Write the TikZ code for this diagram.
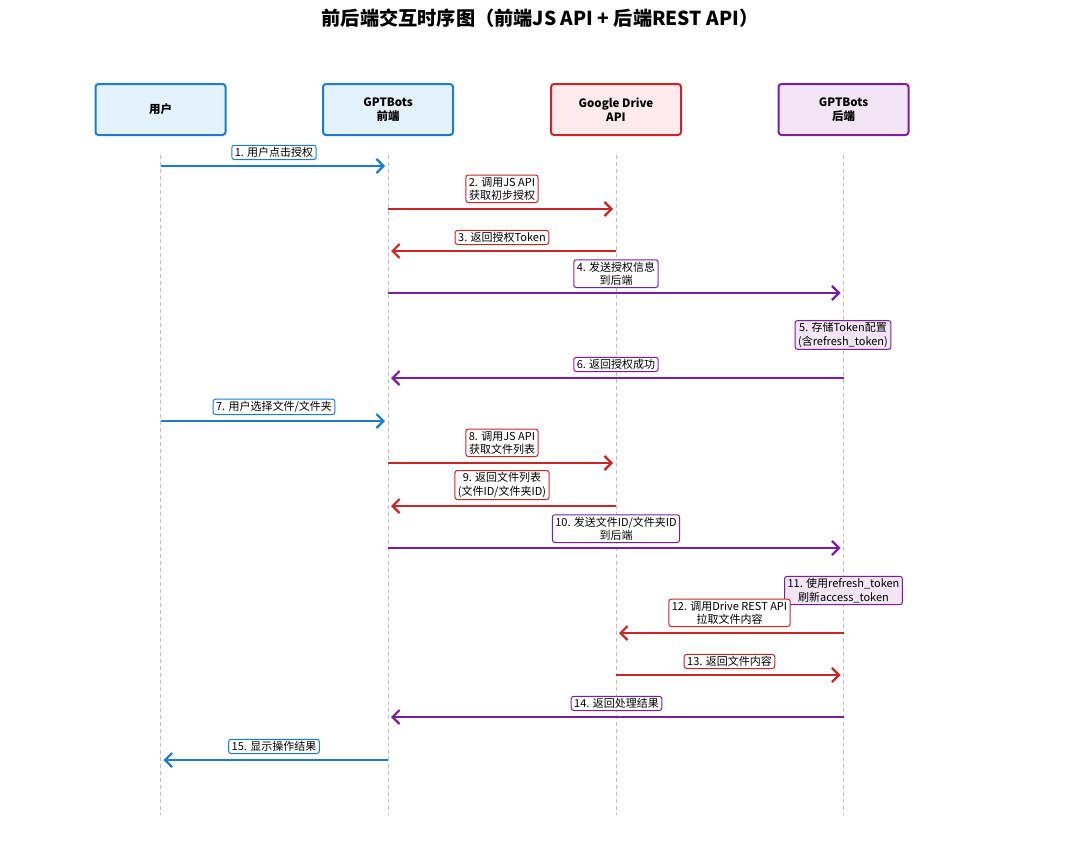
\documentclass[tikz,border=0pt]{standalone}
\usepackage{fontspec}
\setmainfont{Noto Sans CJK SC}
\usetikzlibrary{arrows.meta}
\definecolor{cb}{HTML}{1C7CD0}
\definecolor{cbf}{HTML}{E3F2FD}
\definecolor{cr}{HTML}{C62828}
\definecolor{crf}{HTML}{FFEBEE}
\definecolor{cp}{HTML}{7B1FA2}
\definecolor{cpf}{HTML}{F3E5F5}
\definecolor{cl}{HTML}{BDBDBD}
\begin{document}
\begin{tikzpicture}[x=1pt,y=-1pt,
  part/.style={draw=#1,fill=#1!10!white,line width=2pt,rounded corners=3pt,minimum width=130pt,minimum height=51pt,font=\fontsize{11.5}{13.5}\selectfont\bfseries,align=center},
  life/.style={draw=cl,line width=1pt,dash pattern=on 4pt off 3pt},
  msg/.style={draw=#1,line width=2.4pt,-{Straight Barb[length=7pt,width=14pt,line width=2.2pt]}},
  lbl/.style={draw=#1,fill=white,line width=1pt,rounded corners=2.5pt,inner xsep=3pt,inner ysep=2pt,font=\fontsize{11}{13.5}\selectfont,align=center},
  note/.style={draw=cp,fill=cpf,line width=1pt,rounded corners=2.5pt,inner xsep=3pt,inner ysep=2pt,font=\fontsize{11}{13.5}\selectfont,align=center}]
\useasboundingbox (0,0) rectangle (1080,854);
\node[font=\fontsize{19.2}{23}\selectfont\bfseries] (title) at (540,18) {前后端交互时序图（前端JS API + 后端REST API）};
\node[part=cb,fill=cbf] (u) at (160.5,109.5) {用户};
\node[part=cb,fill=cbf] (fe) at (388,109.5) {GPTBots\\前端};
\node[part=cr,fill=crf] (gd) at (616,109.5) {Google Drive\\API};
\node[part=cp,fill=cpf] (be) at (843.5,109.5) {GPTBots\\后端};
\foreach \p in {u,fe,gd,be}{
  \coordinate (\p t) at (\p |- 0,155);
  \coordinate (\p b) at (\p |- 0,815);
  \draw[life] (\p t) -- (\p b);
}
% 1
\draw[msg=cb] (u |- 0,166) -- ([xshift=-3pt]fe |- 0,166);
\node[lbl=cb,anchor=south] (l1) at (274,160) {1. 用户点击授权};
% 2
\draw[msg=cr] (fe |- 0,209) -- ([xshift=-3pt]gd |- 0,209);
\node[lbl=cr,anchor=south] (l2) at (502,203) {2. 调用JS API\\获取初步授权};
% 3
\draw[msg=cr] (gd |- 0,251) -- ([xshift=3pt]fe |- 0,251);
\node[lbl=cr,anchor=south] (l3) at (502,245) {3. 返回授权Token};
% 4
\draw[msg=cp] (fe |- 0,293) -- ([xshift=-3pt]be |- 0,293);
\node[lbl=cp,anchor=south] (l4) at (616,288) {4. 发送授权信息\\到后端};
% 5
\node[note] (n5) at (843,335) {5. 存储Token配置\\(含refresh\_token)};
% 6
\draw[msg=cp] (be |- 0,378) -- ([xshift=3pt]fe |- 0,378);
\node[lbl=cp,anchor=south] (l6) at (616,372) {6. 返回授权成功};
% 7
\draw[msg=cb] (u |- 0,421) -- ([xshift=-3pt]fe |- 0,421);
\node[lbl=cb,anchor=south] (l7) at (274,415) {7. 用户选择文件/文件夹};
% 8
\draw[msg=cr] (fe |- 0,463) -- ([xshift=-3pt]gd |- 0,463);
\node[lbl=cr,anchor=south] (l8) at (502,457) {8. 调用JS API\\获取文件列表};
% 9
\draw[msg=cr] (gd |- 0,506) -- ([xshift=3pt]fe |- 0,506);
\node[lbl=cr,anchor=south] (l9) at (502,500) {9. 返回文件列表\\(文件ID/文件夹ID)};
% 10
\draw[msg=cp] (fe |- 0,548) -- ([xshift=-3pt]be |- 0,548);
\node[lbl=cp,anchor=south] (l10) at (616,543) {10. 发送文件ID/文件夹ID\\到后端};
% 11
\node[note] (n11) at (843.5,590.5) {11. 使用refresh\_token\\刷新access\_token};
% 12
\draw[msg=cr] (be |- 0,633) -- ([xshift=3pt]gd |- 0,633);
\node[lbl=cr,anchor=south] (l12) at (729.5,627) {12. 调用Drive REST API\\拉取文件内容};
% 13
\draw[msg=cr] (gd |- 0,675) -- ([xshift=-3pt]be |- 0,675);
\node[lbl=cr,anchor=south] (l13) at (729.5,669) {13. 返回文件内容};
% 14
\draw[msg=cp] (be |- 0,717) -- ([xshift=3pt]fe |- 0,717);
\node[lbl=cp,anchor=south] (l14) at (616.5,711) {14. 返回处理结果};
% 15
\draw[msg=cb] (fe |- 0,760) -- ([xshift=3pt]u |- 0,760);
\node[lbl=cb,anchor=south] (l15) at (274,754) {15. 显示操作结果};
\end{tikzpicture}
\end{document}
